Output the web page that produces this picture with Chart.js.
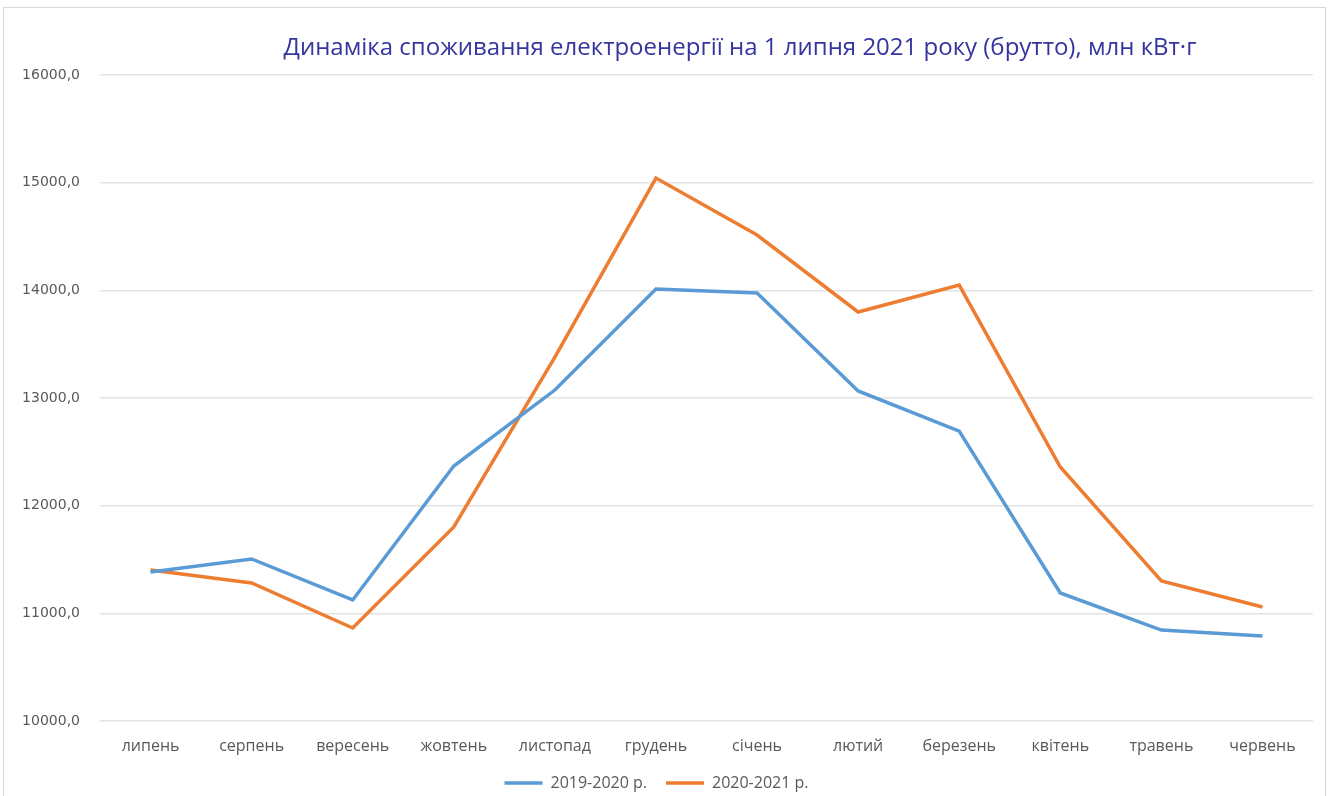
<!DOCTYPE html>
<html>
<head>
<meta charset="utf-8">
<script src="https://cdn.jsdelivr.net/npm/chart.js@4"></script>
<style>
  html, body { margin: 0; padding: 0; background: #fff; }
  #wrap { width: 1333px; height: 796px; }
</style>
</head>
<body>
<div id="wrap"><canvas id="consumption" width="1333" height="796"></canvas></div>
<script>
var chartTitle = 'Динаміка споживання електроенергії на 1 липня 2021 року (брутто), млн кВт·г';
var months = ['липень', 'серпень', 'вересень', 'жовтень', 'листопад', 'грудень', 'січень', 'лютий', 'березень', 'квітень', 'травень', 'червень'];
var season2019 = [11384, 11505, 11124, 12368, 13074, 14012, 13975, 13065, 12693, 11189, 10845, 10789];
var season2020 = [11402, 11282, 10864, 11802, 13380, 15043, 14514, 13799, 14049, 12359, 11300, 11059];
var yTicks = [10000, 11000, 12000, 13000, 14000, 15000, 16000];

Chart.defaults.font.family = 'Open Sans';
Chart.defaults.color = '#595959';

// white background, thin grey frame and the title (sits right of centre like in Excel)
var framePlugin = {
    id: 'frame',
    beforeDraw: function (chart) {
        var c = chart.ctx;
        c.save();
        c.fillStyle = '#fff';
        c.fillRect(0, 0, chart.width, chart.height);
        c.strokeStyle = '#d9d9d9';
        c.lineWidth = 1;
        c.strokeRect(3.5, 7.5, 1322, 800);
        c.fillStyle = '#3535a0';
        c.font = '24px "Open Sans"';
        c.textAlign = 'center';
        c.textBaseline = 'middle';
        c.fillText(chartTitle, 740, 48);
        c.restore();
    }
};

var ctx = document.getElementById('consumption');
var myChart = new Chart(ctx, {
    type: 'line',
    plugins: [framePlugin],
    data: {
        labels: months,
        datasets: [
            {
                label: '2019-2020 р.',
                data: season2019,
                borderColor: '#5B9BD5',
                backgroundColor: '#5B9BD5',
                borderWidth: 3.5,
                pointRadius: 0,
                tension: 0,
            },
            {
                label: '2020-2021 р.',
                data: season2020,
                borderColor: '#ED7D31',
                backgroundColor: '#ED7D31',
                borderWidth: 3.5,
                pointRadius: 0,
                tension: 0,
            },
        ]
    },
    options: {
        responsive: false,
        animation: false,
        layout: {
            padding: { left: 0, right: 20, top: 75, bottom: -5 },
        },
        plugins: {
            title: { display: false },
            legend: {
                position: 'bottom',
                labels: {
                    usePointStyle: true,
                    pointStyle: 'line',
                    pointStyleWidth: 38,
                    boxHeight: 16,
                    color: '#595959',
                    font: { size: 16 },
                    padding: 3,
                    // wider gap between the two entries without growing the legend box
                    generateLabels: function (chart) {
                        var items = Chart.defaults.plugins.legend.labels.generateLabels(chart);
                        items.forEach(function (item, i) {
                            if (i < items.length - 1) item.text += '\u2002\u2002';
                        });
                        return items;
                    },
                },
            },
            tooltip: { enabled: false },
        },
        scales: {
            x: {
                offset: true,
                grid: { display: false },
                border: { display: false },
                afterFit: function (scale) {
                    scale.height = 51;
                },
                ticks: {
                    maxRotation: 0,
                    padding: 8,
                    font: { size: 16 },
                },
            },
            y: {
                min: 10000,
                max: 16000,
                afterBuildTicks: function (scale) {
                    scale.ticks = yTicks.map(function (v) { return { value: v }; });
                },
                afterFit: function (scale) {
                    scale.width = 100;
                },
                border: { display: false },
                grid: {
                    color: '#e3e3e3',
                    lineWidth: 1.5,
                    drawTicks: false,
                },
                ticks: {
                    padding: 20,
                    font: { family: 'DejaVu Sans', size: 14 },
                    callback: function (value) {
                        return value.toFixed(1).replace('.', ',');
                    },
                },
            },
        },
    },
});
myChart.update();
</script>
</body>
</html>
